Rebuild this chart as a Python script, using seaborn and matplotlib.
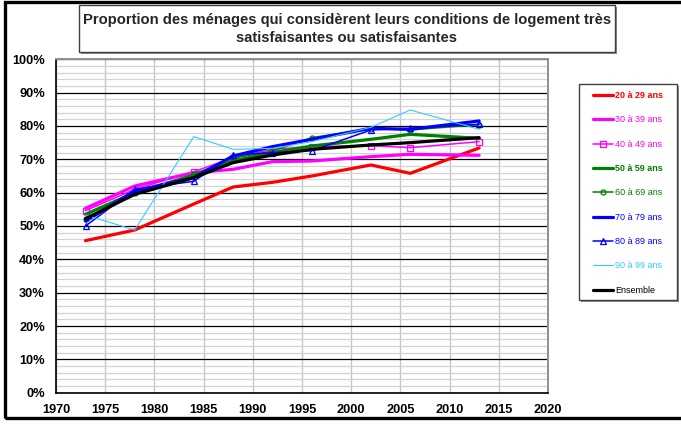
import matplotlib
matplotlib.use("Agg")
import matplotlib.pyplot as plt
from matplotlib.patches import Rectangle
from matplotlib.ticker import MultipleLocator, FuncFormatter
import seaborn as sns

# Survey years and share of households (%) rating their housing as satisfying
years = [1973, 1978, 1984, 1988, 1992, 1996, 2002, 2006, 2013]
age_20_29 = [45.6, 48.8, 56.6, 61.7, 63.1, 65.0, 68.3, 65.8, 73.4]
age_30_39 = [55.3, 62.0, 66.0, 67.0, 69.3, 69.5, 70.8, 71.5, 71.2]
age_40_49 = [54.6, 61.0, 66.3, 70.5, 73.0, 73.8, 74.1, 73.5, 75.3]
age_50_59 = [53.5, 60.0, 65.2, 69.5, 72.0, 74.0, 76.0, 77.5, 76.3]
age_60_69 = [52.0, 60.0, 65.5, 70.3, 72.5, 76.5, 79.2, 78.8, 80.4]
age_70_79 = [51.5, 60.5, 64.5, 71.0, 73.8, 76.0, 79.3, 79.0, 81.5]
age_80_89 = [50.0, 61.0, 63.4, 71.3, 72.0, 72.6, 78.8, 79.3, 80.5]
age_90_99 = [53.3, 48.8, 76.8, 73.0, 73.3, 75.3, 79.6, 84.8, 79.0]
ensemble = [52.2, 59.5, 64.5, 69.0, 71.3, 73.0, 74.3, 75.0, 76.5]

labels = ["20 à 29 ans", "30 à 39 ans", "40 à 49 ans", "50 à 59 ans",
          "60 à 69 ans", "70 à 79 ans", "80 à 89 ans", "90 à 99 ans", "Ensemble"]
series = [age_20_29, age_30_39, age_40_49, age_50_59, age_60_69,
          age_70_79, age_80_89, age_90_99, ensemble]
colors = ["#FF0000", "#FF00FF", "#FF00FF", "#008000", "#008000",
          "#0000FF", "#0000FF", "#33CCFF", "#000000"]
widths = [2.3, 2.3, 1.1, 2.3, 1.1, 2.3, 1.1, 0.8, 2.3]
markers = [None, None, "s", None, "o", None, "^", None, None]
msizes = [0, 0, 4.4, 0, 3.6, 0, 4.2, 0, 0]
bold_labels = {"20 à 29 ans", "50 à 59 ans"}

sns.set_style("white")
plt.rcParams["font.family"] = ["Liberation Sans", "DejaVu Sans"]

W, H = 681, 425
fig = plt.figure(figsize=(W / 100, H / 100), dpi=100)


def fx(px):
    return px / W


def fy(py):
    return 1 - py / H


ax = fig.add_axes([fx(56), fy(392.7), fx(548 - 56), (392.7 - 59.3) / H])

for vals, lab, col, lw, mk, ms in zip(series, labels, colors, widths, markers, msizes):
    kw = dict(x=years, y=vals, ax=ax, color=col, linewidth=lw, label=lab)
    if mk:
        kw.update(marker=mk, markersize=ms, markerfacecolor="none",
                  markeredgecolor=col, markeredgewidth=0.9)
    sns.lineplot(**kw)

leg = ax.get_legend()
if leg is not None:
    leg.remove()

ax.set_xlim(1970, 2020)
ax.set_ylim(0, 100)
ax.xaxis.set_major_locator(MultipleLocator(5))
ax.yaxis.set_major_locator(MultipleLocator(10))
ax.yaxis.set_minor_locator(MultipleLocator(2))
ax.yaxis.set_major_formatter(FuncFormatter(lambda v, p: f"{v:.0f}%"))
ax.set_xlabel("")
ax.set_ylabel("")

ax.grid(False)
ax.grid(axis="y", which="minor", color="#d4d4d4", linewidth=0.9, zorder=0)
ax.grid(axis="y", which="major", color="#000000", linewidth=0.9, zorder=0)
ax.grid(axis="x", which="major", color="#c4c4c4", linewidth=1.0, zorder=0)
ax.set_axisbelow(True)

for side in ("left", "bottom"):
    ax.spines[side].set_color("black")
    ax.spines[side].set_linewidth(1.2)
for side in ("top", "right"):
    ax.spines[side].set_color("#909090")
    ax.spines[side].set_linewidth(1.4)

ax.tick_params(axis="x", which="major", direction="inout", length=6, width=1,
               pad=5, labelsize=9.2, colors="black")
ax.tick_params(axis="y", which="major", direction="out", length=4, width=1,
               pad=4, labelsize=9.2, colors="black")
ax.tick_params(axis="y", which="minor", length=0)
for t in ax.get_xticklabels() + ax.get_yticklabels():
    t.set_fontweight("bold")

# Outer frame of the chart
fig.patches.append(Rectangle((fx(5), fy(418)), fx(700), (418 - 2) / H,
                             transform=fig.transFigure, fill=False,
                             edgecolor="black", linewidth=2.4, zorder=0))


# Boxes with a drop shadow
def boxed(x0, y0, x1, y1):
    fig.patches.append(Rectangle((fx(x0 + 2), fy(y1 + 2)), fx(x1 - x0), (y1 - y0) / H,
                                 transform=fig.transFigure, facecolor="#8c8c8c",
                                 edgecolor="none", zorder=3))
    fig.patches.append(Rectangle((fx(x0), fy(y1)), fx(x1 - x0), (y1 - y0) / H,
                                 transform=fig.transFigure, facecolor="white",
                                 edgecolor="#404040", linewidth=1.0, zorder=4))


boxed(79, 5, 615, 52)
fig.text(fx(347), fy(29),
         "Proportion des ménages qui considèrent leurs conditions de logement très\n"
         "satisfaisantes ou satisfaisantes",
         ha="center", va="center", fontsize=10.6, fontweight="bold",
         linespacing=1.3, zorder=5)

# Legend box
boxed(579, 84, 677, 300)
handles = ax.get_lines()[:len(labels)]
lg = fig.legend(handles, labels, loc="upper left",
                bbox_to_anchor=(fx(593), fy(91)), frameon=False,
                fontsize=6.5, handlelength=2.2, handletextpad=0.25,
                labelspacing=1.7, borderpad=0, borderaxespad=0)
lg.set_zorder(6)
for txt, col in zip(lg.get_texts(), colors):
    txt.set_color(col)
    if txt.get_text() in bold_labels:
        txt.set_fontweight("bold")

fig.savefig("out.png", dpi=100)
